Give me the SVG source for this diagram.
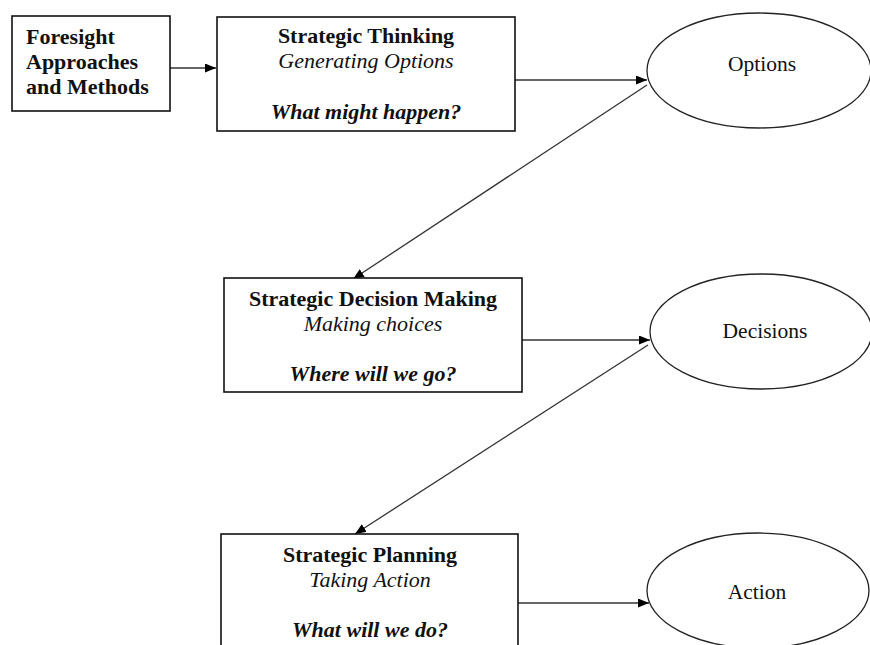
<svg xmlns="http://www.w3.org/2000/svg" width="870" height="645" viewBox="0 0 870 645">
<style>
.box{fill:#fff;stroke:#111;stroke-width:1.6}
.ell{fill:#fff;stroke:#222;stroke-width:1.3}
.t{font-family:"Liberation Serif","Times New Roman",serif;font-size:22px;fill:#111}
.r{font-size:21.5px}
.b{font-weight:bold}
.i{font-style:italic}
.c{text-anchor:middle}
.con{stroke:#333;stroke-width:1.3;fill:none;marker-end:url(#ah)}
</style>
<defs>
<marker id="ah" markerUnits="userSpaceOnUse" markerWidth="12" markerHeight="10" refX="11" refY="4.5" orient="auto">
<path d="M0,0 L11,4.5 L0,9 z" fill="#000"/>
</marker>
</defs>
<rect width="870" height="645" fill="#fff"/>
<g id="connectors">
<line class="con" x1="170" y1="68" x2="216" y2="68"/>
<line class="con" x1="515" y1="80" x2="647" y2="80"/>
<line class="con" x1="647" y1="85" x2="353" y2="279"/>
<line class="con" x1="522" y1="340" x2="650" y2="340"/>
<line class="con" x1="648" y1="345" x2="355" y2="534"/>
<line class="con" x1="518" y1="603" x2="649" y2="603"/>
</g>
<g id="foresight">
<rect class="box" x="12" y="16" width="158" height="95"/>
<text class="t b" x="26" y="44">Foresight</text>
<text class="t b" x="26" y="69">Approaches</text>
<text class="t b" x="26" y="94">and Methods</text>
</g>
<g id="strategic-thinking">
<rect class="box" x="217" y="17" width="298" height="114"/>
<text class="t b c" x="366" y="43">Strategic Thinking</text>
<text class="t i c" x="366" y="68">Generating Options</text>
<text class="t b i c" x="366" y="119">What might happen?</text>
</g>
<g id="options">
<ellipse class="ell" cx="759" cy="70.5" rx="112" ry="57.5"/>
<text class="t r c" x="762" y="71">Options</text>
</g>
<g id="strategic-decision-making">
<rect class="box" x="224" y="278" width="298" height="114"/>
<text class="t b c" x="373" y="306">Strategic Decision Making</text>
<text class="t i c" x="373" y="331">Making choices</text>
<text class="t b i c" x="373" y="381">Where will we go?</text>
</g>
<g id="decisions">
<ellipse class="ell" cx="761" cy="331.5" rx="111" ry="57.5"/>
<text class="t r c" x="765" y="338">Decisions</text>
</g>
<g id="strategic-planning">
<rect class="box" x="221" y="534" width="297" height="130"/>
<text class="t b c" x="370" y="562">Strategic Planning</text>
<text class="t i c" x="370" y="587">Taking Action</text>
<text class="t b i c" x="370" y="637">What will we do?</text>
</g>
<g id="action">
<ellipse class="ell" cx="758" cy="590.5" rx="111" ry="57.5"/>
<text class="t r c" x="757" y="599">Action</text>
</g>
</svg>
